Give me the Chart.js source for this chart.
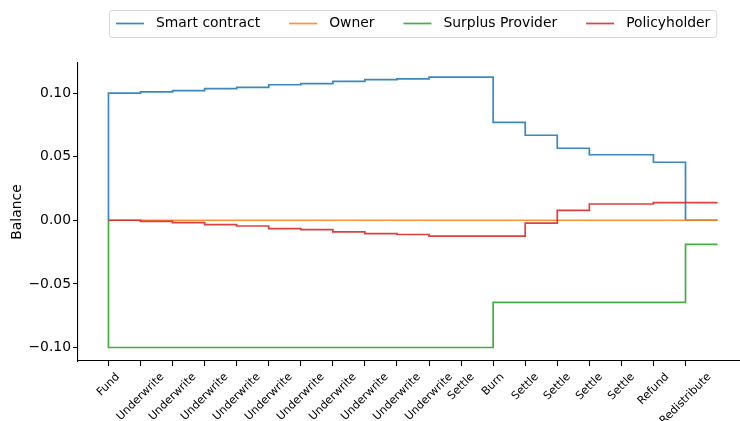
<!DOCTYPE html>
<html>
<head>
<meta charset="utf-8">
<script src="https://cdn.jsdelivr.net/npm/chart.js@4.4.1/dist/chart.umd.min.js"></script>
<style>html,body{margin:0;padding:0;background:#fff}canvas{display:block}</style>
</head>
<body>
<canvas id="c" width="740" height="421"></canvas>
<script>
// Transaction names (x tick labels)
const categories = ['Fund','Underwrite','Underwrite','Underwrite','Underwrite','Underwrite',
  'Underwrite','Underwrite','Underwrite','Underwrite','Underwrite','Settle','Burn',
  'Settle','Settle','Settle','Settle','Refund','Redistribute'];

// Balances (state before first transaction, then after each transaction)
const smartContract   = [0, 0.1000, 0.1009, 0.1019, 0.1035, 0.1045, 0.1065, 0.1074, 0.1091, 0.1105,
                         0.1112, 0.1125, 0.1125, 0.0770, 0.0668, 0.0566, 0.0515, 0.0515, 0.0456, 0];
const owner           = [0, 0, 0, 0, 0, 0, 0, 0, 0, 0, 0, 0, 0, 0, 0, 0, 0, 0, 0, 0];
const surplusProvider = [0, -0.1, -0.1, -0.1, -0.1, -0.1, -0.1, -0.1, -0.1, -0.1,
                         -0.1, -0.1, -0.1, -0.0645, -0.0645, -0.0645, -0.0645, -0.0645, -0.0645, -0.0189];
const policyholder    = [0, 0, -0.0009, -0.0019, -0.0035, -0.0045, -0.0065, -0.0074, -0.0091, -0.0105,
                         -0.0112, -0.0125, -0.0125, -0.0125, -0.0022, 0.0078, 0.0128, 0.0128, 0.0139, 0.0139];

const seriesNames = ['Smart contract', 'Owner', 'Surplus Provider', 'Policyholder'];
const yTicks = [-0.1, -0.05, 0, 0.05, 0.1];

const FAMILY = '"DejaVu Sans", sans-serif';
const colors = ['rgba(31,119,180,0.88)', 'rgba(255,127,14,0.85)', 'rgba(44,160,44,0.88)', 'rgba(214,39,40,0.88)'];

const toPts = arr => arr.map((v, i) => ({x: i, y: v}));

const customDraw = {
  id: 'customDraw',
  afterDraw(chart) {
    const ctx = chart.ctx, xs = chart.scales.x, area = chart.chartArea;
    ctx.save();
    // rotated, centre-aligned x tick labels
    const xf = 11.1;
    ctx.font = xf + 'px ' + FAMILY;
    ctx.fillStyle = '#000';
    ctx.textAlign = 'center';
    ctx.textBaseline = 'middle';
    const top = area.bottom + 9.7;
    const h = xf * 1.16;
    xs.ticks.forEach(t => {
      const label = categories[t.value];
      const w = ctx.measureText(label).width;
      const half = (w + h) * Math.SQRT1_2 / 2;
      ctx.save();
      ctx.translate(xs.getPixelForValue(t.value), top + half);
      ctx.rotate(-Math.PI / 4);
      ctx.fillText(label, 0, 0);
      ctx.restore();
    });
    // legend
    ctx.font = '13.9px ' + FAMILY;
    const handle = 28, pad = 12, col = 29, border = 6.5;
    const items = chart.data.datasets.map(ds => ({text: ds.label, color: ds.borderColor, w: ctx.measureText(ds.label).width}));
    const inner = items.reduce((s, it) => s + handle + pad + it.w, 0) + col * (items.length - 1);
    const boxW = inner + 2 * border, boxH = 27, boxTop = 10;
    const cx = xs.getPixelForValue((smartContract.length - 1) / 2);
    const left = Math.round(cx - boxW / 2) + 0.5, r = 3;
    const bt = boxTop + 0.5;
    ctx.beginPath();
    ctx.moveTo(left + r, bt);
    ctx.lineTo(left + boxW - r, bt);
    ctx.quadraticCurveTo(left + boxW, bt, left + boxW, bt + r);
    ctx.lineTo(left + boxW, bt + boxH - r);
    ctx.quadraticCurveTo(left + boxW, bt + boxH, left + boxW - r, bt + boxH);
    ctx.lineTo(left + r, bt + boxH);
    ctx.quadraticCurveTo(left, bt + boxH, left, bt + boxH - r);
    ctx.lineTo(left, bt + r);
    ctx.quadraticCurveTo(left, bt, left + r, bt);
    ctx.closePath();
    ctx.fillStyle = 'rgba(255,255,255,0.8)';
    ctx.fill();
    ctx.strokeStyle = '#d6d6d6';
    ctx.lineWidth = 1;
    ctx.stroke();
    let x = left + border;
    const cy = boxTop + boxH / 2;
    ctx.textAlign = 'left';
    items.forEach(it => {
      ctx.beginPath();
      ctx.strokeStyle = it.color;
      ctx.lineWidth = 1.7;
      ctx.moveTo(x, cy);
      ctx.lineTo(x + handle, cy);
      ctx.stroke();
      ctx.fillStyle = '#000';
      ctx.fillText(it.text, x + handle + pad, cy);
      x += handle + pad + it.w + col;
    });
    ctx.restore();
  }
};

const seriesData = [smartContract, owner, surplusProvider, policyholder];
const datasets = seriesData.map((arr, i) => ({
  label: seriesNames[i],
  data: toPts(arr),
  borderColor: colors[i],
  backgroundColor: colors[i],
  borderWidth: 1.7,
  pointRadius: 0,
  stepped: 'after',
  fill: false,
  order: 4 - i
}));

const axisGrid = {drawOnChartArea: false, drawTicks: true, tickLength: 5, tickColor: '#000', tickWidth: 1.1};
const axisBorder = {display: true, color: '#000', width: 1.1};

new Chart(document.getElementById('c'), {
  type: 'line',
  data: {datasets},
  options: {
    responsive: false,
    animation: false,
    devicePixelRatio: 1,
    layout: {padding: {top: 63, left: 0, right: 0, bottom: 0}},
    plugins: {legend: {display: false}, tooltip: {enabled: false}},
    scales: {
      x: {
        type: 'linear', min: -0.95, max: 19.7,
        afterBuildTicks: s => { s.ticks = categories.map((c, i) => ({value: i})); },
        afterFit: s => { s.height = 60; },
        ticks: {display: false},
        grid: axisGrid, border: axisBorder
      },
      y: {
        type: 'linear', min: -0.1106, max: 0.1236,
        afterBuildTicks: s => { s.ticks = yTicks.map(v => ({value: v})); },
        afterFit: s => { s.width = 78; },
        ticks: {color: '#000', font: {family: FAMILY, size: 13.9}, padding: 2,
          callback: v => v.toFixed(2).replace('-', '\u2212')},
        grid: axisGrid, border: axisBorder,
        title: {display: true, text: 'Balance', color: '#000', font: {family: FAMILY, size: 13.9}, padding: {top: 9, bottom: 0}}
      }
    }
  },
  plugins: [customDraw]
});
</script>
</body>
</html>
